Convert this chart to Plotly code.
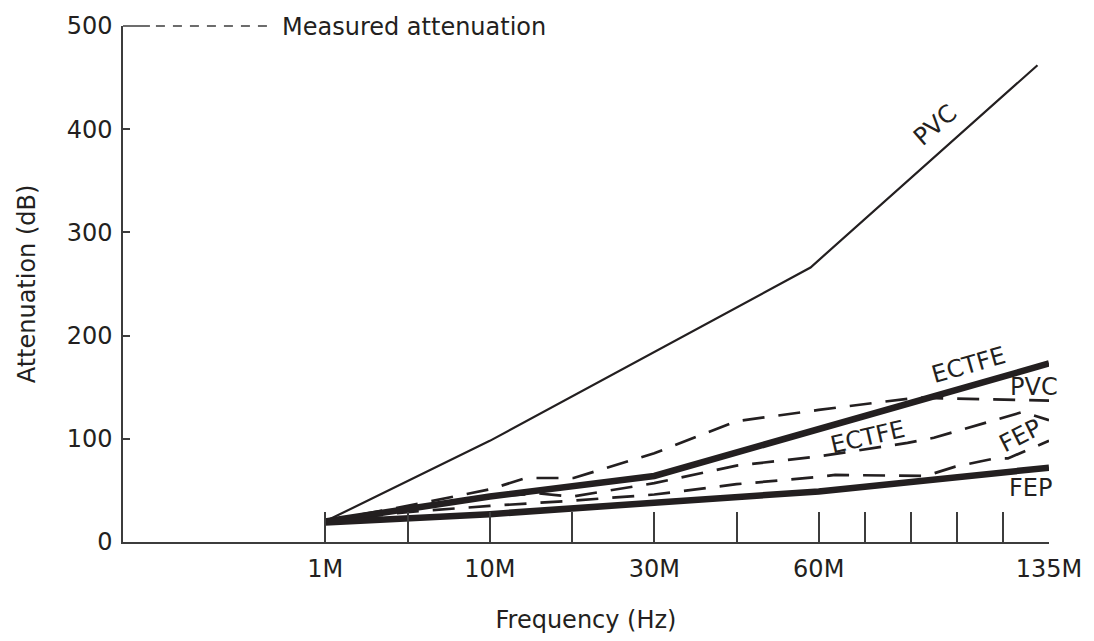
import plotly.graph_objects as go

INK = "#231f20"
AXIS = "#3c3c3c"
FONT = "DejaVu Sans"
FS = 24

# x axis: positions of the frequency ticks (chart uses its own non-uniform spacing)
x_tick_pos = [0, 0.5, 1, 1.5, 2, 2.5, 3, 3.28, 3.56, 3.84, 4.12, 4.4]
x_tick_text = ["1M", "", "10M", "", "30M", "", "60M", "", "", "", "", "135M"]
y_tick_vals = [0, 100, 200, 300, 400, 500]

# calculated attenuation (solid)
pvc_calc_x = [0, 1, 2.95, 4.33]
pvc_calc_y = [20, 98, 266, 462]
ectfe_calc_x = [0, 1, 2, 4.4]
ectfe_calc_y = [20, 44, 64, 173]
fep_calc_x = [0, 1, 2, 3, 4.4]
fep_calc_y = [19, 27, 38, 49, 72]

# measured attenuation (dashed)
pvc_meas_x = [0, 0.5, 1, 1.22, 1.51, 2, 2.5, 3, 3.6, 3.8, 4.4]
pvc_meas_y = [20, 35, 51, 62, 62, 86, 117, 128, 140, 139, 137]
ectfe_meas_x = [0, 0.5, 1, 1.3, 1.5, 2, 2.5, 3, 3.54, 3.7, 4.24, 4.4]
ectfe_meas_y = [20, 32, 44, 47, 44, 57, 74, 83, 96, 101, 126, 118]
fep_meas_x = [0, 0.5, 1, 1.5, 2, 2.5, 3, 3.1, 3.65, 3.83, 3.98, 4.07, 4.15, 4.4]
fep_meas_y = [20, 29, 35, 40, 46, 56, 63, 65, 64, 73, 78, 81, 81, 98]

DASH = "22px,14px"

fig = go.Figure()

for xs, ys, nm in [(pvc_meas_x, pvc_meas_y, "PVC measured"),
                   (ectfe_meas_x, ectfe_meas_y, "ECTFE measured"),
                   (fep_meas_x, fep_meas_y, "FEP measured")]:
    fig.add_trace(go.Scatter(x=xs, y=ys, mode="lines", name=nm,
                             line=dict(color=INK, width=2.7, dash=DASH)))

fig.add_trace(go.Scatter(x=pvc_calc_x, y=pvc_calc_y, mode="lines", name="PVC",
                         line=dict(color=INK, width=2.2)))
fig.add_trace(go.Scatter(x=ectfe_calc_x, y=ectfe_calc_y, mode="lines", name="ECTFE",
                         line=dict(color=INK, width=6.5)))
fig.add_trace(go.Scatter(x=fep_calc_x, y=fep_calc_y, mode="lines", name="FEP",
                         line=dict(color=INK, width=6.5)))

W, H = 1094, 641
ML, MR, MT, MB = 123, 43, 20, 98
PW, PH = W - ML - MR, H - MT - MB


def px(xp):
    return (xp - ML) / PW


def py(yp):
    return 1 - (yp - MT) / PH


# curve labels: (text, x_px, y_px, angle)
labels = [
    ("PVC", 937, 120, -41),
    ("ECTFE", 971, 364, -16),
    ("PVC", 1036, 386, 0),
    ("ECTFE", 870, 437, -13),
    ("FEP", 1022, 436, -27),
    ("FEP", 1032, 488, 0),
]
annotations = []
for t, xp, yp, ang in labels:
    annotations.append(dict(text=t, x=px(xp), y=py(yp), xref="paper", yref="paper",
                            showarrow=False, textangle=ang,
                            font=dict(family=FONT, size=FS, color=INK),
                            xanchor="center", yanchor="middle"))

annotations.append(dict(text="Measured attenuation", x=px(280), y=py(21),
                        xref="paper", yref="paper", showarrow=False,
                        xanchor="left", yanchor="middle",
                        font=dict(family=FONT, size=FS, color=INK)))

shapes = [
    dict(type="line", xref="paper", yref="paper", x0=px(123), x1=px(150),
         y0=py(20), y1=py(20), line=dict(color=AXIS, width=1.5)),
    dict(type="line", xref="paper", yref="paper", x0=px(156), x1=px(273),
         y0=py(20), y1=py(20), line=dict(color=AXIS, width=1.5, dash="9px,8px")),
]

fig.update_layout(
    width=W, height=H,
    margin=dict(l=ML, r=MR, t=MT, b=MB, pad=0),
    paper_bgcolor="white", plot_bgcolor="white",
    font=dict(family=FONT, size=FS, color=INK),
    showlegend=False,
    annotations=annotations,
    shapes=shapes,
    xaxis=dict(range=[-1.23, 4.4], tickmode="array", tickvals=x_tick_pos,
               ticktext=x_tick_text, ticks="inside", ticklen=30, tickwidth=1.5,
               tickcolor=AXIS, showline=True, linecolor=AXIS, linewidth=1.5,
               showgrid=False, zeroline=False, ticklabelstandoff=4,
               tickfont=dict(family=FONT, size=FS, color=INK),
               title=dict(text="Frequency (Hz)", standoff=30,
                          font=dict(family=FONT, size=FS, color=INK))),
    yaxis=dict(range=[0, 500], tickmode="array", tickvals=y_tick_vals,
               ticks="inside", ticklen=7, tickwidth=1.5, tickcolor=AXIS,
               showline=True, linecolor=AXIS, linewidth=1.5,
               showgrid=False, zeroline=False, ticklabelstandoff=4,
               tickfont=dict(family=FONT, size=FS, color=INK),
               title=dict(text="Attenuation (dB)", standoff=24,
                          font=dict(family=FONT, size=FS, color=INK))),
)

fig.write_html("out.html", config={"displayModeBar": False},
               post_script="document.body.style.margin='0';")
